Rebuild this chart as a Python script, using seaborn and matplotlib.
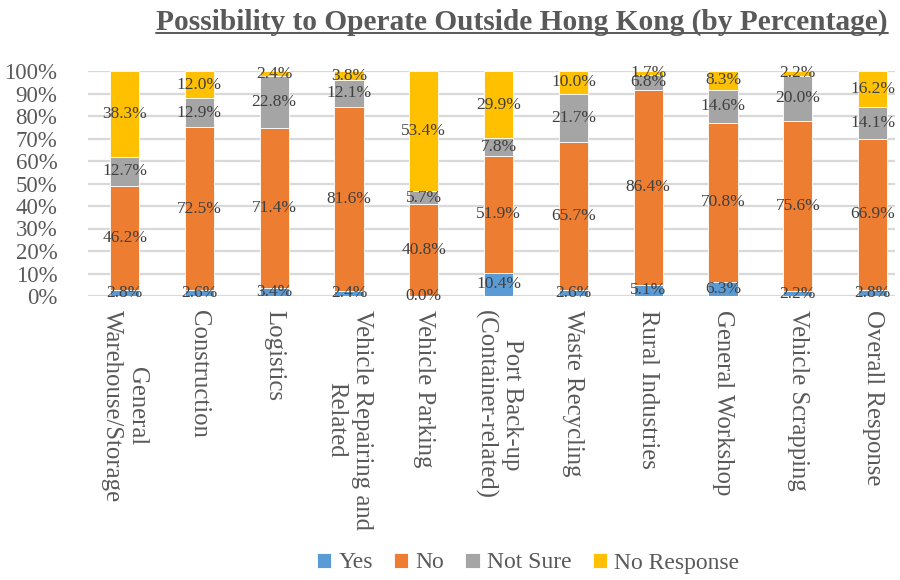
import matplotlib
matplotlib.use("Agg")
import matplotlib.pyplot as plt
import seaborn as sns
import numpy as np
import pandas as pd
from matplotlib.lines import Line2D

categories = ["General\nWarehouse/Storage", "Construction", "Logistics",
              "Vehicle Repairing and\nRelated", "Vehicle Parking",
              "Port Back-up\n(Container-related)", "Waste Recycling",
              "Rural Industries", "General Workshop", "Vehicle Scrapping",
              "Overall Response"]
yes = [2.8, 2.6, 3.4, 2.4, 0.0, 10.4, 2.6, 5.1, 6.3, 2.2, 2.8]
no = [46.2, 72.5, 71.4, 81.6, 40.8, 51.9, 65.7, 86.4, 70.8, 75.6, 66.9]
not_sure = [12.7, 12.9, 22.8, 12.1, 5.7, 7.8, 21.7, 6.8, 14.6, 20.0, 14.1]
no_response = [38.3, 12.0, 2.4, 3.8, 53.4, 29.9, 10.0, 1.7, 8.3, 2.2, 16.2]
series_names = ["Yes", "No", "Not Sure", "No Response"]
colors = ["#5B9BD5", "#ED7D31", "#A5A5A5", "#FFC000"]
title = "Possibility to Operate Outside Hong Kong (by Percentage)"
yticks = [0, 10, 20, 30, 40, 50, 60, 70, 80, 90, 100]

sns.set_style("white")
plt.rcParams["font.family"] = ["Liberation Serif", "DejaVu Serif"]

fig = plt.figure(figsize=(9, 5.8), dpi=100)
ax = fig.add_axes([88/900, 1-296/580, (895-88)/900, (296-71)/580])

series = [yes, no, not_sure, no_response]
bottom = np.zeros(len(categories))
text_color = "#404040"
for name, vals, col in zip(series_names, series, colors):
    df = pd.DataFrame({"cat": categories, "val": np.array(vals) / 100.0})
    sns.barplot(data=df, x="cat", y="val", color=col, width=0.39,
                bottom=bottom, ax=ax, label=name, saturation=1,
                edgecolor="white", linewidth=0.6)
    for i, v in enumerate(vals):
        ax.text(i, bottom[i] + v / 200.0, f"{v:.1f}%", ha="center",
                va="center", fontsize=12.5, color=text_color, zorder=5)
    bottom = bottom + np.array(vals) / 100.0

ax.set_xlim(-0.49, 10.3)
ax.set_ylim(0, 1.0)
ax.set_yticks([t / 100 for t in yticks])
ax.set_yticklabels([f"{t}%" for t in yticks], fontsize=16.5, color="#595959")
ax.yaxis.grid(True, color="#D9D9D9", linewidth=1.6)
ax.set_axisbelow(True)
for s in ax.spines.values():
    s.set_visible(False)
ax.tick_params(axis="both", length=0)
ax.tick_params(axis="y", pad=22)
ax.set_xlabel("")
ax.set_ylabel("")
ax.set_xticks(range(len(categories)))
ax.set_xticklabels(categories, rotation=-90, ha="center", va="top",
                   fontsize=17.8, color="#595959", multialignment="center")
ax.tick_params(axis="x", pad=10)

leg = ax.legend(loc="center", bbox_to_anchor=(528/900, 1-563/580),
                bbox_transform=fig.transFigure, ncol=4, frameon=False,
                fontsize=17, handlelength=0.6, handleheight=0.6,
                handletextpad=0.3, columnspacing=0.9, labelcolor="#595959")

t = fig.text(522/900, 1-22/580, title, ha="center", va="center",
             fontsize=21.2, fontweight="bold", color="#595959")
fig.canvas.draw()
bb = t.get_window_extent().transformed(fig.transFigure.inverted())
fig.add_artist(Line2D([bb.x0, bb.x1], [bb.y0 + 0.004, bb.y0 + 0.004],
                      color="#595959", linewidth=1.4, transform=fig.transFigure))

fig.savefig("out.png", dpi=100)
